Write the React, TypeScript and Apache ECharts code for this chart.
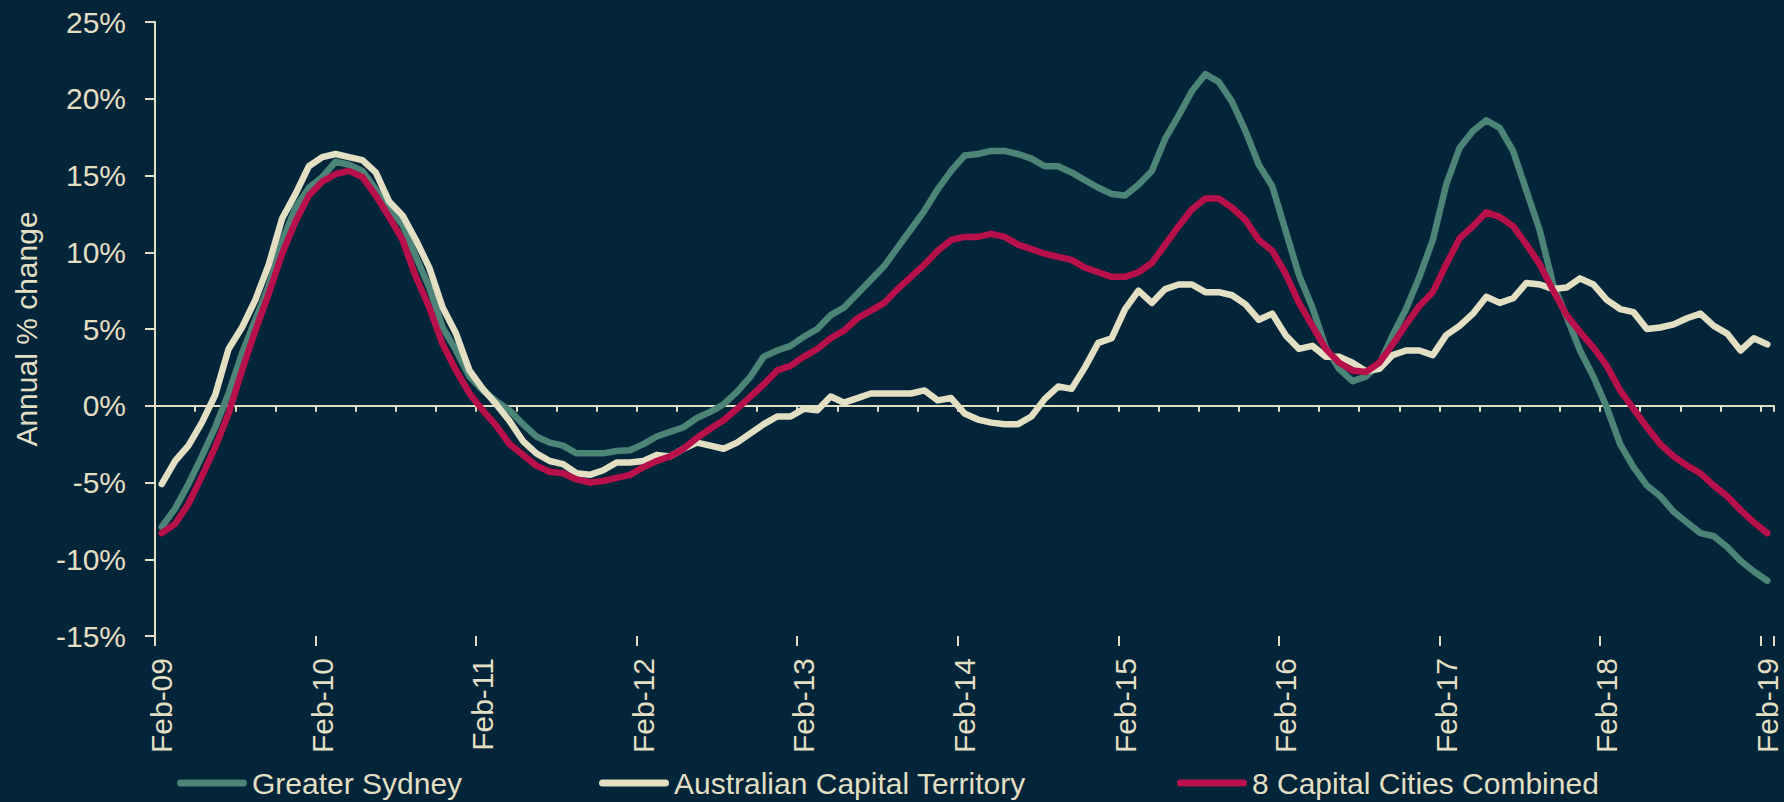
import React, { useEffect, useRef } from "react";
import * as echarts from "echarts";

const MONTH_NAMES = ["Jan", "Feb", "Mar", "Apr", "May", "Jun", "Jul", "Aug", "Sep", "Oct", "Nov", "Dec"];
// Monthly categories Feb-09 .. Feb-19 (121 months)
const categories: string[] = [];
for (let k = 0; k < 121; k++) {
  const m = (1 + k) % 12;
  const y = 9 + Math.floor((1 + k) / 12);
  categories.push(`${MONTH_NAMES[m]}-${String(y).padStart(2, "0")}`);
}

const SERIES_NAMES = ["Greater Sydney", "Australian Capital Territory", "8 Capital Cities Combined"];

const greaterSydney = [
  -7.9, -6.7, -5.1, -3.3, -1.4, 0.8, 3.4, 5.6, 7.8, 10.7, 12.9, 14.2,
  14.9, 15.9, 15.7, 15.3, 14.1, 12.9, 11.8, 9.7, 7.7, 5.1, 3.6, 1.9,
  1.0, 0.3, -0.3, -1.2, -2.0, -2.4, -2.6, -3.1, -3.1, -3.1, -2.95, -2.9,
  -2.5, -2.0, -1.7, -1.4, -0.8, -0.4, 0.1, 0.9, 1.9, 3.2, 3.6, 3.9,
  4.5, 5.0, 5.9, 6.4, 7.3, 8.2, 9.1, 10.3, 11.5, 12.7, 14.1, 15.3,
  16.3, 16.4, 16.6, 16.6, 16.4, 16.1, 15.6, 15.6, 15.2, 14.7, 14.2, 13.8,
  13.7, 14.4, 15.3, 17.4, 18.9, 20.5, 21.6, 21.1, 19.8, 17.9, 15.7, 14.3,
  11.4, 8.5, 6.4, 3.8, 2.4, 1.6, 1.9, 2.7, 4.6, 6.3, 8.4, 10.8,
  14.4, 16.8, 17.9, 18.6, 18.1, 16.6, 14.0, 11.4, 7.9, 5.8, 3.6, 1.9,
  -0.1, -2.5, -4.0, -5.2, -5.9, -6.9, -7.6, -8.3, -8.5, -9.2, -10.1, -10.8,
  -11.4,
];

const actValues = [
  -5.1, -3.6, -2.6, -1.1, 0.7, 3.7, 5.1, 6.9, 9.2, 12.2, 13.8, 15.6,
  16.2, 16.4, 16.2, 16.0, 15.2, 13.3, 12.4, 10.8, 9.0, 6.4, 4.7, 2.3,
  1.1, 0.1, -1.0, -2.3, -3.1, -3.6, -3.8, -4.4, -4.5, -4.2, -3.7, -3.7,
  -3.6, -3.2, -3.3, -2.8, -2.4, -2.6, -2.8, -2.4, -1.8, -1.2, -0.7, -0.7,
  -0.2, -0.3, 0.6, 0.2, 0.5, 0.8, 0.8, 0.8, 0.8, 1.0, 0.35, 0.5,
  -0.5, -0.9, -1.1, -1.2, -1.2, -0.7, 0.45, 1.25, 1.1, 2.5, 4.1, 4.4,
  6.3, 7.5, 6.7, 7.6, 7.9, 7.9, 7.4, 7.4, 7.2, 6.6, 5.6, 6.0,
  4.6, 3.7, 3.9, 3.2, 3.2, 2.8, 2.25, 2.4, 3.3, 3.6, 3.6, 3.3,
  4.6, 5.2, 6.0, 7.1, 6.7, 7.0, 8.0, 7.9, 7.6, 7.7, 8.3, 7.9,
  6.9, 6.3, 6.1, 5.0, 5.1, 5.3, 5.7, 6.0, 5.2, 4.7, 3.6, 4.4,
  4.0,
];

const capitalCities = [
  -8.3, -7.7, -6.4, -4.6, -2.7, -0.5, 2.3, 4.9, 7.3, 9.9, 12.0, 13.7,
  14.6, 15.1, 15.3, 14.9, 13.7, 12.3, 10.8, 8.4, 6.4, 4.0, 2.3, 0.8,
  -0.3, -1.3, -2.5, -3.2, -3.9, -4.3, -4.4, -4.8, -5.0, -4.9, -4.7, -4.5,
  -4.0, -3.6, -3.3, -2.8, -2.1, -1.5, -0.95, -0.2, 0.6, 1.4, 2.3, 2.6,
  3.2, 3.7, 4.4, 4.9, 5.7, 6.2, 6.7, 7.6, 8.4, 9.2, 10.1, 10.8,
  11.0, 11.0, 11.2, 11.0, 10.5, 10.2, 9.9, 9.7, 9.5, 9.0, 8.7, 8.4,
  8.4, 8.7, 9.3, 10.5, 11.7, 12.8, 13.5, 13.5, 12.9, 12.1, 10.8, 10.1,
  8.6, 6.7, 5.2, 3.7, 2.8, 2.3, 2.2, 2.8, 4.0, 5.3, 6.5, 7.4,
  9.2, 10.9, 11.7, 12.6, 12.3, 11.7, 10.5, 9.2, 7.5, 5.9, 4.8, 3.8,
  2.6, 1.0, -0.2, -1.4, -2.5, -3.3, -3.9, -4.4, -5.2, -5.9, -6.8, -7.6,
  -8.3,
];

const SERIES_VALUES = [greaterSydney, actValues, capitalCities];
const SERIES_COLORS = ["#4d8478", "#e2dfc2", "#b8104b"];
const Y_MIN = -15;
const Y_MAX = 25;
const Y_STEP = 5;

const BG = "#03253a";
const CREAM = "#e2dfc2";
const FONT = "'Liberation Sans', Arial, sans-serif";
const LEGEND_LEFT = [177, 599, 1177];
const CAPSULE = "path://M3.5,0 H66.5 A3.5,3.5 0 0 1 66.5,7 H3.5 A3.5,3.5 0 0 1 3.5,0 Z";

export default function App() {
  const ref = useRef<HTMLDivElement>(null);

  useEffect(() => {
    if (!ref.current) return;
    const chart = echarts.init(ref.current, null, { renderer: "svg" });

    const baseX = {
      type: "category" as const,
      data: categories,
      boundaryGap: true,
      position: "bottom" as const,
      splitLine: { show: false },
    };

    chart.setOption({
      animation: false,
      backgroundColor: BG,
      textStyle: { fontFamily: FONT },
      grid: { left: 155, right: 10, top: 22, bottom: 166, containLabel: false },
      legend: SERIES_NAMES.map((name, i) => ({
        data: [name],
        left: LEGEND_LEFT[i],
        top: 767,
        padding: 0,
        icon: CAPSULE,
        itemWidth: 70,
        itemHeight: 7,
        textStyle: { color: CREAM, fontSize: 30, fontFamily: FONT, lineHeight: 32 },
        selectedMode: false,
      })),
      xAxis: [
        {
          ...baseX,
          axisLine: { show: false, onZero: false },
          axisTick: { show: false },
          axisLabel: {
            interval: (index: number) => index % 12 === 0,
            rotate: 90,
            margin: 22,
            color: CREAM,
            fontSize: 30,
            fontFamily: FONT,
          },
        },
        {
          ...baseX,
          axisLine: { show: true, onZero: true, lineStyle: { color: CREAM, width: 2 } },
          axisTick: {
            show: true,
            interval: (index: number) => index % 3 === 0,
            length: 6,
            lineStyle: { color: CREAM, width: 2 },
          },
          axisLabel: { show: false },
        },
        {
          ...baseX,
          axisLine: { show: false, onZero: true },
          axisTick: {
            show: true,
            interval: (index: number) => index % 12 === 0,
            length: 10,
            lineStyle: { color: CREAM, width: 2 },
          },
          axisLabel: { show: false },
        },
      ],
      yAxis: {
        type: "value",
        min: Y_MIN,
        max: Y_MAX,
        interval: Y_STEP,
        name: "Annual % change",
        nameLocation: "middle",
        nameRotate: 90,
        nameGap: 114,
        nameTextStyle: { color: CREAM, fontSize: 30, fontFamily: FONT },
        axisLine: { show: true, lineStyle: { color: CREAM, width: 2 } },
        axisTick: { show: true, length: 10, lineStyle: { color: CREAM, width: 2 } },
        axisLabel: { formatter: "{value}%", color: CREAM, fontSize: 30, margin: 29, fontFamily: FONT },
        splitLine: { show: false },
      },
      series: SERIES_NAMES.map((name, i) => ({
        name,
        type: "line",
        xAxisIndex: 0,
        yAxisIndex: 0,
        data: SERIES_VALUES[i],
        color: SERIES_COLORS[i],
        showSymbol: false,
        symbol: "none",
        lineStyle: { color: SERIES_COLORS[i], width: 6.5, cap: "round", join: "round" },
        itemStyle: { color: SERIES_COLORS[i] },
        z: 2 + i,
      })),
    });

    return () => chart.dispose();
  }, []);

  return (
    <div
      ref={ref}
      style={{ position: "fixed", left: 0, top: 0, width: 1784, height: 802, background: BG }}
    />
  );
}
